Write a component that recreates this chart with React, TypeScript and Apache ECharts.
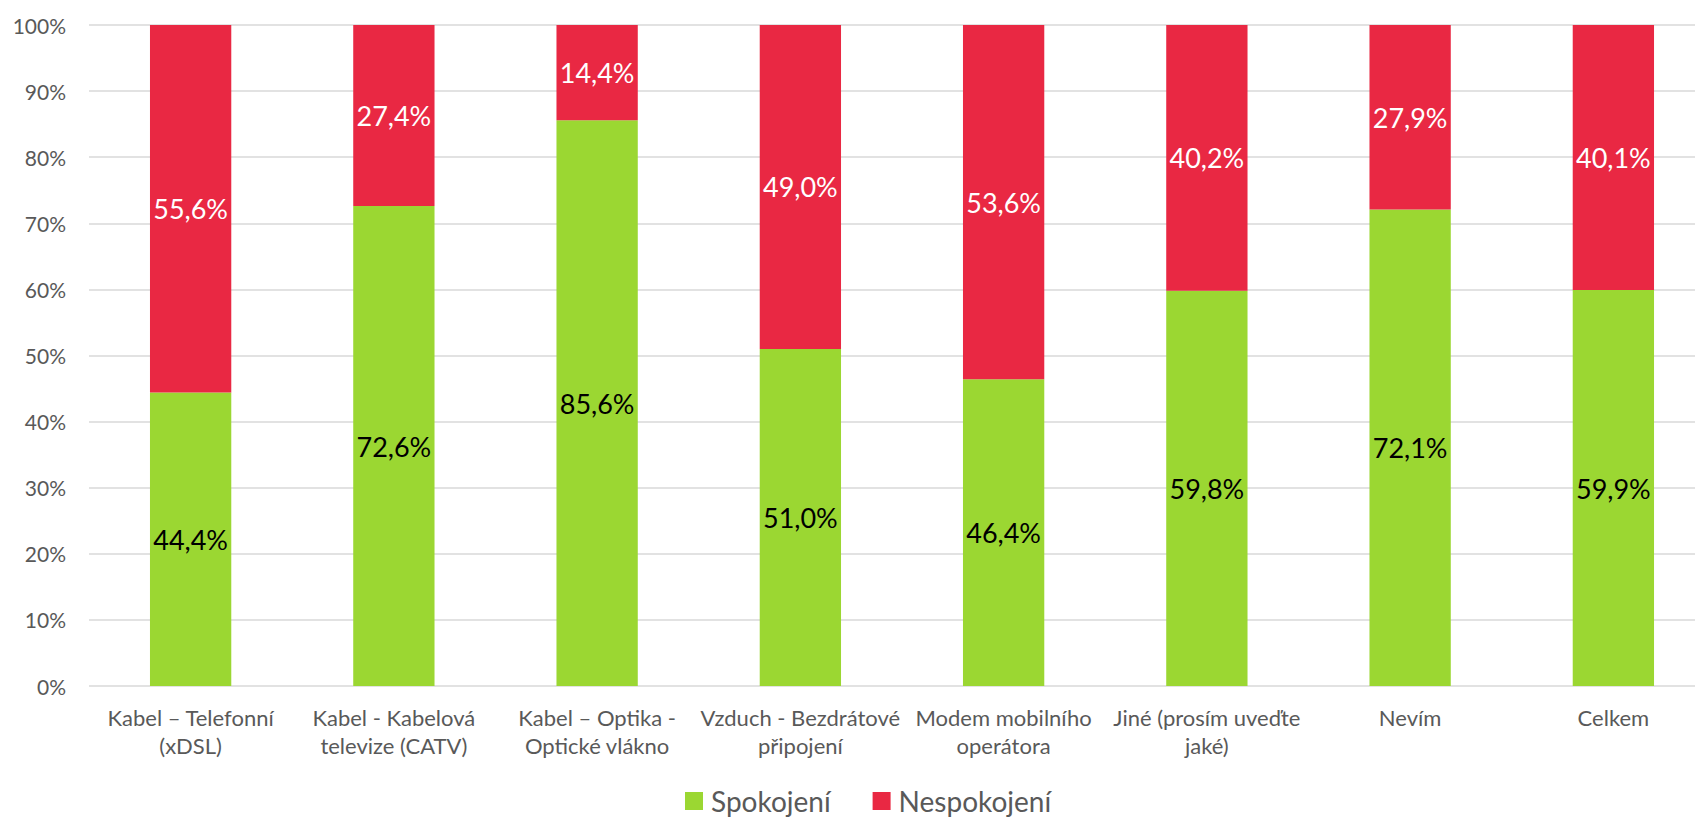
import React, { useEffect, useRef } from "react";
import * as echarts from "echarts";

const categories = [
  "Kabel – Telefonní\n(xDSL)",
  "Kabel - Kabelová\ntelevize (CATV)",
  "Kabel – Optika -\nOptické vlákno",
  "Vzduch - Bezdrátové\npřipojení",
  "Modem mobilního\noperátora",
  "Jiné (prosím uveďte\njaké)",
  "Nevím",
  "Celkem",
];
const spokojeni = [44.4, 72.6, 85.6, 51.0, 46.4, 59.8, 72.1, 59.9];
const nespokojeni = [55.6, 27.4, 14.4, 49.0, 53.6, 40.2, 27.9, 40.1];
const seriesNames = ["Spokojení", "Nespokojení"];

const FONT = "Lato";
const fmt = (v: number) => v.toFixed(1).replace(".", ",") + "%";

export default function App() {
  const ref = useRef<HTMLDivElement>(null);
  useEffect(() => {
    if (!ref.current) return;
    const chart = echarts.init(ref.current, null, { renderer: "svg" });
    chart.setOption({
      animation: false,
      backgroundColor: "#ffffff",
      textStyle: { fontFamily: FONT },
      grid: { left: 89, top: 25, width: 1626, height: 661, containLabel: false },
      legend: {
        left: 685,
        top: 787,
        padding: 0,
        itemWidth: 18,
        itemHeight: 18,
        itemGap: 42,
        icon: "rect",
        textStyle: {
          fontSize: 28,
          lineHeight: 26,
          color: "#595959",
          fontFamily: FONT,
          padding: [0, 0, 0, 3],
        },
        data: seriesNames,
      },
      xAxis: {
        type: "category",
        data: categories,
        axisLine: { show: false },
        axisTick: { show: false },
        axisLabel: {
          fontSize: 22,
          color: "#595959",
          lineHeight: 28,
          margin: 17,
          interval: 0,
          fontFamily: FONT,
        },
      },
      yAxis: {
        type: "value",
        min: 0,
        max: 100,
        interval: 10,
        axisLine: { show: false },
        axisTick: { show: false },
        splitLine: { lineStyle: { color: "#d9d9d9", width: 1.5 } },
        axisLabel: {
          formatter: "{value}%",
          fontSize: 21,
          color: "#595959",
          margin: 23,
          fontFamily: FONT,
        },
      },
      series: [
        {
          name: seriesNames[0],
          type: "bar",
          stack: "total",
          barWidth: "40%",
          data: spokojeni,
          itemStyle: { color: "#9BD732" },
          label: {
            show: true,
            position: "inside",
            color: "#000000",
            fontSize: 27,
            fontFamily: FONT,
            formatter: (p: any) => fmt(p.value),
          },
        },
        {
          name: seriesNames[1],
          type: "bar",
          stack: "total",
          barWidth: "40%",
          data: nespokojeni,
          itemStyle: { color: "#E92843" },
          label: {
            show: true,
            position: "inside",
            color: "#ffffff",
            fontSize: 27,
            fontFamily: FONT,
            formatter: (p: any) => fmt(p.value),
          },
        },
      ],
    });
    return () => chart.dispose();
  }, []);
  return (
    <div
      ref={ref}
      style={{ position: "fixed", left: 0, top: 0, width: 1740, height: 818 }}
    />
  );
}
